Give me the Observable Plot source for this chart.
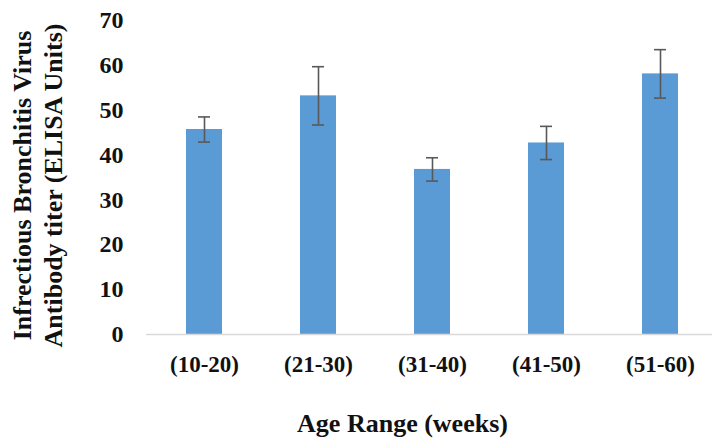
<!DOCTYPE html>
<html>
<head>
<meta charset="utf-8">
<script src="https://cdn.jsdelivr.net/npm/d3@7"></script>
<script src="https://cdn.jsdelivr.net/npm/@observablehq/plot@0.6"></script>
<style>
  html, body { margin: 0; padding: 0; background: #fff; }
  #chart svg { display: block; }
</style>
</head>
<body>
<div id="chart"></div>
<script>
const categories = ["(10-20)", "(21-30)", "(31-40)", "(41-50)", "(51-60)"];
const means = [45.7, 53.2, 36.8, 42.7, 58.1];
const errors = [2.8, 6.5, 2.6, 3.7, 5.4];
const yTicks = [0, 10, 20, 30, 40, 50, 60, 70];
const yTitleLines = ["Infrectious Bronchitis Virus", "Antibody titer (ELISA Units)"];
const xTitle = "Age Range (weeks)";

const data = categories.map((c, i) => ({cat: c, mean: means[i], lo: means[i] - errors[i], hi: means[i] + errors[i]}));
const font = "'Liberation Serif', 'Times New Roman', serif";

const chart = Plot.plot({
  width: 712,
  height: 442,
  marginLeft: 146,
  marginRight: 0,
  marginTop: 20,
  marginBottom: 108,
  style: {fontFamily: font, background: "#fff"},
  x: {domain: categories, range: [146, 719], paddingInner: 0.68, paddingOuter: 0.34, label: null},
  y: {domain: [0, 70], label: null},
  marks: [
    Plot.barY(data, {x: "cat", y: "mean", fill: "#5B9BD5"}),
    Plot.ruleY([0], {stroke: "#d9d9d9", strokeWidth: 1.5}),
    Plot.ruleX(data, {x: "cat", y1: "lo", y2: "hi", stroke: "#595959", strokeWidth: 1.6}),
    Plot.tickY(data, {x: "cat", y: "lo", stroke: "#595959", strokeWidth: 1.6, insetLeft: 12, insetRight: 12}),
    Plot.tickY(data, {x: "cat", y: "hi", stroke: "#595959", strokeWidth: 1.6, insetLeft: 12, insetRight: 12}),
    Plot.axisY({ticks: yTicks, tickSize: 0, tickPadding: 23, fontSize: 24, fontWeight: "bold", fill: "#111", label: null}),
    Plot.axisX({tickSize: 0, tickPadding: 21, fontSize: 23, fontWeight: "bold", fill: "#111", label: null}),
    Plot.text([yTitleLines[0]], {text: d => d, frameAnchor: "left", textAnchor: "middle", rotate: -90, dx: -124, dy: 8, fontSize: 26, fontWeight: "bold", fill: "#111"}),
    Plot.text([yTitleLines[1]], {text: d => d, frameAnchor: "left", textAnchor: "middle", rotate: -90, dx: -93, dy: 8, fontSize: 26, fontWeight: "bold", fill: "#111"}),
    Plot.text([xTitle], {text: d => d, frameAnchor: "bottom", dy: 97, dx: -27, fontSize: 26, fontWeight: "bold", fill: "#111"})
  ]
});
document.getElementById("chart").appendChild(chart);
</script>
</body>
</html>
